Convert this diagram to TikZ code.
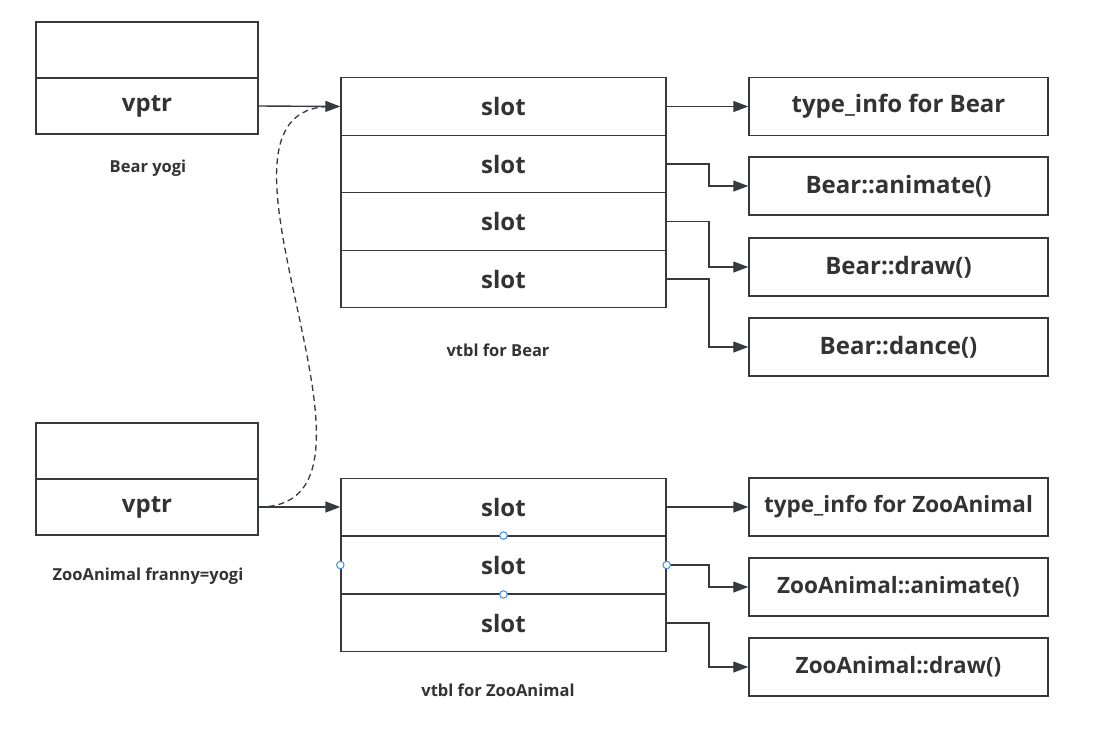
\documentclass[tikz,border=0pt]{standalone}
\usepackage{fontspec}
\setmainfont{Open Sans}
\usetikzlibrary{arrows.meta}
\definecolor{ink}{HTML}{363A3F}
\definecolor{txt}{HTML}{333333}
\definecolor{handle}{HTML}{3B8FE8}
\begin{document}
\begin{tikzpicture}[x=1pt,y=-1pt,
  cell/.style={draw=ink,line width=1.4pt,fill=white,inner sep=0pt,text=txt,font=\bfseries\fontsize{24}{28}\selectfont},
  objcell/.style={cell,minimum width=222pt,minimum height=56pt},
  slotcell/.style={cell,minimum width=325pt,minimum height=57.5pt},
  fncell/.style={cell,minimum width=299pt,minimum height=58pt},
  fnsmall/.style={fncell,font=\bfseries\fontsize{22.5}{26}\selectfont},
  caption/.style={text=txt,font=\bfseries\fontsize{16.5}{20}\selectfont,inner sep=0pt},
  conn/.style={draw=ink,line width=1.4pt,-{Triangle[length=15pt,width=11pt]}},
  elbow/.style={draw=ink,line width=1.2pt,-{Triangle[length=15pt,width=11pt]}},
  hnd/.style={circle,draw=handle,fill=white,line width=1pt,inner sep=0pt,minimum size=7.5pt}
]
\useasboundingbox (0,0) rectangle (1116,734);
\fill[white] (0,0) rectangle (1116,734);

% Bear yogi object
\node[objcell] (yogiTop) at (147,50) {};
\node[objcell] (yogiPtr) at (147,106) {vptr};
\node[caption] (yogiCap) at (148,168) {Bear yogi};

% vtbl for Bear
\node[slotcell] (bs1) at (503.5,106.5) {slot};
\node[slotcell] (bs2) at (503.5,164) {slot};
\node[slotcell] (bs3) at (503.5,221.5) {slot};
\node[slotcell] (bs4) at (503.5,279) {slot};
\node[caption] (bvCap) at (498,350) {vtbl for Bear};

% Bear functions
\node[fncell] (bf1) at (898.5,106.5) {type\_info for Bear};
\node[fncell] (bf2) at (898.5,186) {Bear::animate()};
\node[fncell] (bf3) at (898.5,267) {Bear::draw()};
\node[fncell] (bf4) at (898.5,347) {Bear::dance()};

% ZooAnimal franny object
\node[objcell] (fTop) at (147,451) {};
\node[objcell] (fPtr) at (147,507) {vptr};
\node[caption] (fCap) at (148,576) {ZooAnimal franny=yogi};

% vtbl for ZooAnimal
\node[slotcell] (zs1) at (503.5,507) {slot};
\node[slotcell] (zs2) at (503.5,565) {slot};
\node[slotcell] (zs3) at (503.5,623) {slot};
\node[caption] (zvCap) at (498,690) {vtbl for ZooAnimal};

% ZooAnimal functions
\node[fnsmall] (zf1) at (898.5,507) {type\_info for ZooAnimal};
\node[fnsmall] (zf2) at (898.5,587) {ZooAnimal::animate()};
\node[fnsmall] (zf3) at (898.5,667) {ZooAnimal::draw()};

% connectors
\draw[conn] (yogiPtr.east) -- (bs1.west);
\draw[conn] (fPtr.east) -- (zs1.west);
\draw[draw=ink,line width=1.3pt,dash pattern=on 6pt off 4pt]
  (fPtr.east) .. controls (420,507) and (175,106) .. ([xshift=-9pt]bs1.west);

\draw[conn] (bs1.east) -- (bf1.west);
\draw[elbow] (bs2.east) -- (709,164) |- (bf2.west);
\draw[elbow] (bs3.east) -- (709,221.5) |- (bf3.west);
\draw[elbow] (bs4.east) -- (709,279) |- (bf4.west);

\draw[conn] (zs1.east) -- (zf1.west);
\draw[elbow] (zs2.east) -- (709,565) |- (zf2.west);
\draw[elbow] (zs3.east) -- (709,623) |- (zf3.west);

% selection handles
\node[hnd] (h1) at (zs2.west) {};
\node[hnd] (h2) at (zs2.east) {};
\node[hnd] (h3) at (zs2.north) {};
\node[hnd] (h4) at (zs2.south) {};
\end{tikzpicture}
\end{document}
